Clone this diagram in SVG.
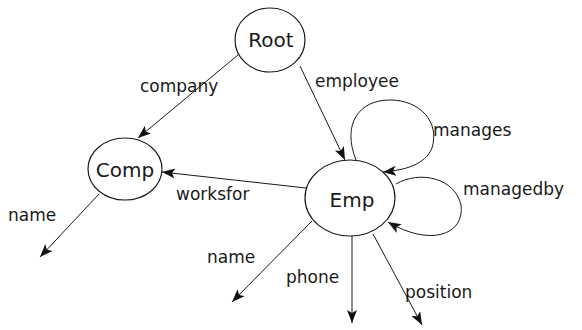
<svg xmlns="http://www.w3.org/2000/svg" width="582" height="330" viewBox="0 0 582 330">
  <style>
    .node { fill: #ffffff; stroke: #1a1a1a; stroke-width: 1.2; }
    .ntext { font-family: "DejaVu Sans", sans-serif; font-size: 20px; fill: #1a1a1a; text-anchor: middle; }
    .edge { fill: none; stroke: #1a1a1a; stroke-width: 1; marker-end: url(#arrow); }
    .label { font-family: "DejaVu Sans", sans-serif; font-size: 17px; fill: #1a1a1a; }
  </style>
  <defs>
    <marker id="arrow" markerUnits="userSpaceOnUse" markerWidth="14" markerHeight="12" refX="13" refY="5" orient="auto">
      <path d="M0,0 L13,5 L0,10 L3,5 z" fill="#111111"/>
    </marker>
  </defs>
  <rect width="582" height="330" fill="#ffffff"/>

  <g id="connectors">
    <path class="edge" d="M238,55 L138,138"/>
    <path class="edge" d="M300,66 L345,160"/>
    <path class="edge" d="M306,188 L162,172"/>
    <path class="edge" d="M99,194 L40,257"/>
    <path class="edge" d="M312,221 L232,302"/>
    <path class="edge" d="M352,236 L352,323"/>
    <path class="edge" d="M373,234 L422,325"/>
    <path class="edge" d="M356,160 C 342,125 358,100 390,100 C 420,100 440,122 432,148 C 425,165 405,170 383,172"/>
    <path class="edge" d="M396,184 C 420,170 455,178 461,205 C 465,235 430,247 388,222"/>
    <text class="label" x="140" y="92">company</text>
    <text class="label" x="315" y="87">employee</text>
    <text class="label" x="433" y="136">manages</text>
    <text class="label" x="463" y="195">managedby</text>
    <text class="label" x="176" y="200">worksfor</text>
    <text class="label" x="8" y="221">name</text>
    <text class="label" x="207" y="263">name</text>
    <text class="label" x="286" y="283">phone</text>
    <text class="label" x="405" y="298">position</text>
  </g>

  <g id="node-root">
    <ellipse class="node" cx="270" cy="40" rx="35" ry="32"/>
    <text class="ntext" x="271" y="47">Root</text>
  </g>
  <g id="node-comp">
    <ellipse class="node" cx="125" cy="169" rx="37" ry="31"/>
    <text class="ntext" x="125" y="177">Comp</text>
  </g>
  <g id="node-emp">
    <ellipse class="node" cx="350" cy="198" rx="45" ry="38"/>
    <text class="ntext" x="352" y="207">Emp</text>
  </g>
</svg>
